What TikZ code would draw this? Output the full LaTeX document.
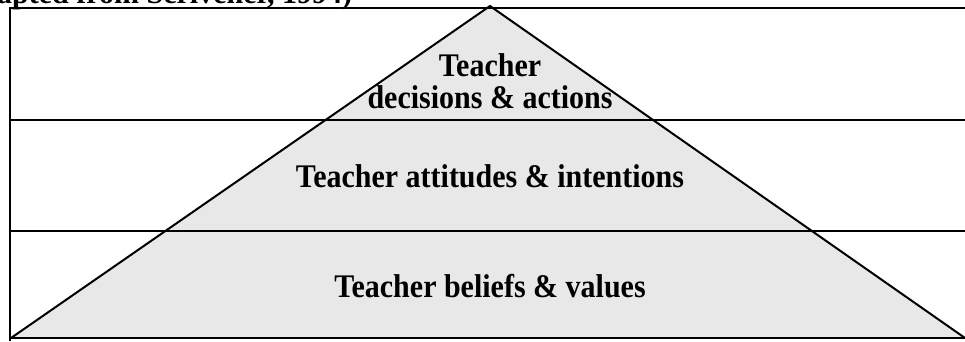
\documentclass[tikz,border=0pt]{standalone}
\usepackage{fontspec}
\setmainfont{Liberation Serif}
\begin{document}
\begin{tikzpicture}[x=1pt,y=1pt,
  rule/.style={line width=2pt,black},
  layer/.style={font=\bfseries\fontsize{30}{32}\selectfont,anchor=base,inner sep=0pt,
    yscale=1.1,transform shape},
  caption/.style={font=\bfseries\fontsize{30}{32}\selectfont,anchor=base west,inner sep=0pt}]
  \useasboundingbox (0,0) rectangle (965,341);
  % shaded pyramid
  \coordinate (apex) at (490,335);
  \coordinate (bl) at (11,3);
  \coordinate (br) at (965,3);
  \fill[black!9] (bl) -- (apex) -- (br) -- cycle;
  % frame and level dividers
  \draw[rule] (10,0) -- (10,333) -- (965,333);
  \draw[rule] (10,221) -- (965,221);
  \draw[rule] (10,110) -- (965,110);
  \draw[rule] (10,3) -- (965,3);
  \draw[rule,line join=miter] (bl) -- (apex) -- (br);
  % labels
  \node[layer] (top1) at (490,265) {Teacher};
  \node[layer] (top2) at (490,233) {decisions \& actions};
  \node[layer] (mid) at (490,154) {Teacher attitudes \& intentions};
  \node[layer] (base) at (490,44) {Teacher beliefs \& values};
  \node[caption] (src) at (-3,337) {apted from Scrivener, 1994)};
\end{tikzpicture}
\end{document}
